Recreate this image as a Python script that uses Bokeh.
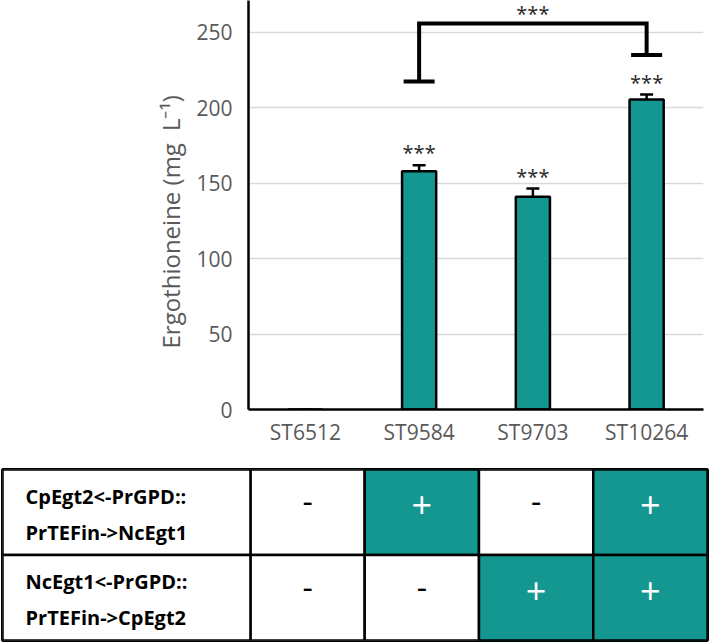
from bokeh.plotting import figure
from bokeh.models import ColumnDataSource, Whisker, TeeHead, Range1d, FactorRange, FixedTicker, Title
from bokeh.embed import file_html
from bokeh.resources import INLINE
from bokeh.core.properties import value

# ---------------- data ----------------
strains = ["ST6512", "ST9584", "ST9703", "ST10264"]
ergothioneine = [0, 158, 141, 205.5]          # mg/L
errors = [0, 4, 5.5, 3.3]
significance = ["", "***", "***", "***"]
y_ticks = [0, 50, 100, 150, 200, 250]

bracket_strains = ["ST9584", "ST10264"]
bracket_top = 256
bracket_feet = [217.5, 235]
bracket_label = "***"

construct_labels = ["CpEgt2<-PrGPD::\nPrTEFin->NcEgt1",
                    "NcEgt1<-PrGPD::\nPrTEFin->CpEgt2"]
construct_present = [[False, True, False, True],
                     [False, False, True, True]]

# ---------------- style ----------------
TEAL = "#149790"
GREY = "#595959"
FONT = "Open Sans"

upper = [v + e for v, e in zip(ergothioneine, errors)]
src = ColumnDataSource(dict(strain=strains, value=ergothioneine, upper=upper, sig=significance))

p = figure(x_range=FactorRange(*strains), y_range=Range1d(0, 271.2),
           width=709, height=467, output_backend="svg", toolbar_location=None,
           min_border_left=248, min_border_right=6, min_border_top=0, min_border_bottom=58)

p.vbar(x="strain", top="value", width=0.3, source=src, fill_color=TEAL,
       line_color="black", line_width=2.5)

wh = Whisker(base="strain", lower="value", upper="upper", source=src,
             line_color="black", line_width=2.5,
             upper_head=TeeHead(size=13, line_color="black", line_width=2.5),
             lower_head=None)
p.add_layout(wh)

p.text(x="strain", y="upper", text="sig", source=src, text_align="center",
       text_baseline="bottom", text_font=value(FONT), text_font_size="20px",
       text_color="#262626", y_offset=1)

b0, b1 = bracket_strains
p.line(x=[b0, b0, b1, b1], y=[bracket_feet[0], bracket_top, bracket_top, bracket_feet[1]],
       line_color="black", line_width=4, line_join="miter")
p.scatter(x=bracket_strains, y=bracket_feet, marker="dash", size=31,
          line_color="black", line_width=4)
mid = strains[(strains.index(b0) + strains.index(b1)) // 2]
p.text(x=[mid], y=[bracket_top], text=[bracket_label], text_align="center",
       text_baseline="top", text_font=value(FONT), text_font_size="20px",
       text_color="#262626", y_offset=-23)

ylabel = Title(text="Ergothioneine (mg\u2002L\u207b\u00b9)", align="left", offset=61,
               text_font=FONT, text_font_size="24px", text_font_style="normal",
               text_color=GREY, standoff=14)
p.add_layout(ylabel, "left")

p.yaxis.ticker = FixedTicker(ticks=y_ticks)
p.axis.major_label_text_font = FONT
p.axis.major_label_text_font_size = "21px"
p.axis.major_label_text_color = GREY
p.axis.major_tick_line_color = None
p.axis.minor_tick_line_color = None
p.axis.axis_line_color = "black"
p.axis.axis_line_width = 2.5
p.yaxis.major_label_standoff = 10
p.xaxis.major_label_standoff = 2
p.ygrid.grid_line_color = "#d9d9d9"
p.ygrid.grid_line_width = 1.5
p.xgrid.grid_line_color = None
p.outline_line_color = None

# ---------------- table ----------------
LABEL_W = 2.17
n_rows = len(construct_labels)
t = figure(x_range=Range1d(-LABEL_W, len(strains)), y_range=Range1d(n_rows, 0),
           width=709, height=175, output_backend="svg", toolbar_location=None,
           x_axis_location=None, y_axis_location=None,
           min_border_left=2, min_border_right=2, min_border_top=2, min_border_bottom=2)
t.grid.visible = False
t.outline_line_color = "black"
t.outline_line_width = 3

cx, cy, fills, syms, scol, ssize, soff = [], [], [], [], [], [], []
for r, row in enumerate(construct_present):
    for c, present in enumerate(row):
        cx.append(c + 0.5)
        cy.append(r + 0.5)
        fills.append(TEAL if present else "white")
        syms.append("+" if present else "-")
        scol.append("white" if present else "black")
        ssize.append("36px" if present else "32px")
        soff.append(-7 if present else -11)
cells = ColumnDataSource(dict(x=cx, y=cy, fill=fills, sym=syms, col=scol, size=ssize, off=soff))
t.rect(x="x", y="y", width=1, height=1, fill_color="fill", line_color="black",
       line_width=2.5, source=cells)
t.text(x="x", y="y", text="sym", text_color="col", source=cells, text_align="center",
       text_baseline="middle", text_font=value(FONT), text_font_size="size", y_offset="off")

ly = [r + 0.5 for r in range(n_rows)]
t.rect(x=[-LABEL_W / 2] * n_rows, y=ly, width=LABEL_W, height=1, fill_color="white",
       line_color="black", line_width=2.5)
t.text(x=[-LABEL_W] * n_rows, y=ly, text=construct_labels, x_offset=23,
       text_align="left", text_baseline="middle", text_font=value(FONT),
       text_font_size="20px", text_font_style="bold", text_line_height=1.32,
       text_color="black", y_offset=2)

open("out.html", "w").write(file_html([p, t], INLINE))
